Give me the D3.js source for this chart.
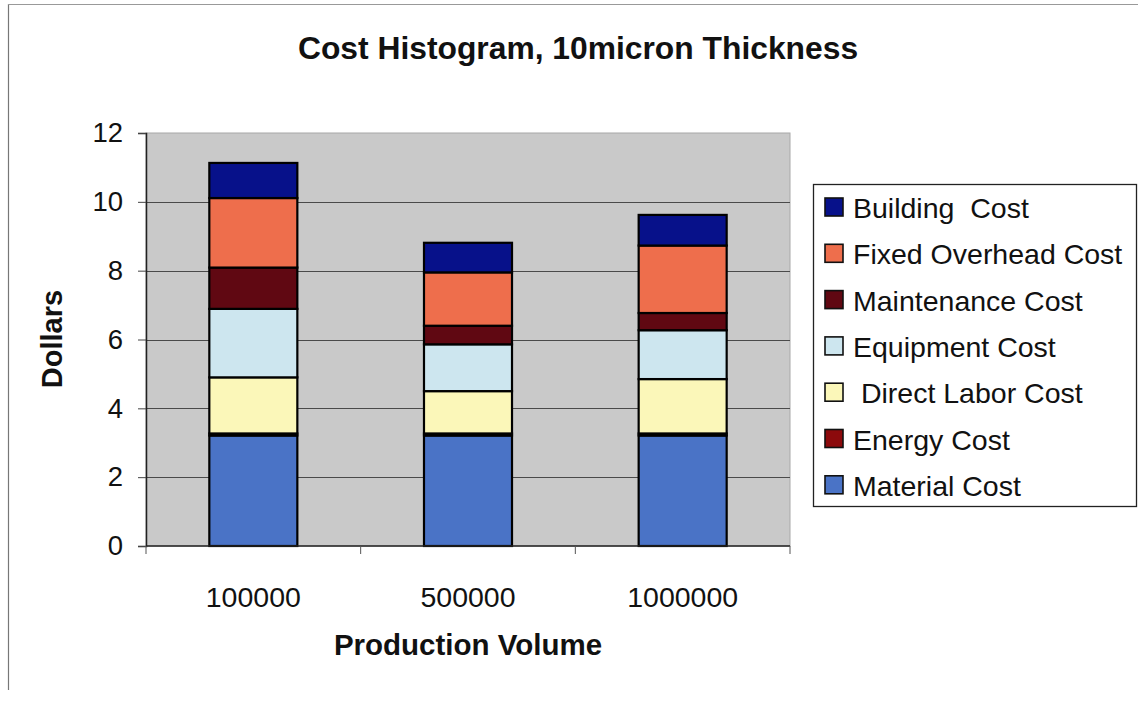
<!DOCTYPE html>
<html>
<head>
<meta charset="utf-8">
<script src="https://cdn.jsdelivr.net/npm/d3@7"></script>
<style>
  html, body { margin: 0; padding: 0; background: #fff; }
  svg { display: block; font-family: "Liberation Sans", Arial, sans-serif; }
</style>
</head>
<body>
<svg id="chart" width="1138" height="705"></svg>
<script>
// Production volumes (x categories)
const categories = ["100000", "500000", "1000000"];

// Cost components per unit, in dollars (stacked bottom to top)
const materialCost      = [3.21, 3.21, 3.21];
const energyCost        = [0.06, 0.06, 0.06];
const directLaborCost   = [1.63, 1.23, 1.58];
const equipmentCost     = [1.99, 1.36, 1.42];
const maintenanceCost   = [1.20, 0.54, 0.50];
const fixedOverheadCost = [2.02, 1.55, 1.96];
const buildingCost      = [1.02, 0.86, 0.89];

const seriesNames = ["Material Cost", "Energy Cost", " Direct Labor Cost", "Equipment Cost",
                     "Maintenance Cost", "Fixed Overhead Cost", "Building  Cost"];
const seriesValues = [materialCost, energyCost, directLaborCost, equipmentCost,
                      maintenanceCost, fixedOverheadCost, buildingCost];
const seriesColors = ["#4a73c6", "#8c0a0c", "#fbf7b9", "#cde6ef",
                      "#600812", "#ee6e4c", "#07118a"];

const yTicks = [0, 2, 4, 6, 8, 10, 12];

const svg = d3.select("#chart");

// outer chart frame (left and top edges)
svg.append("line").attr("x1", 8.5).attr("x2", 8.5).attr("y1", 4).attr("y2", 690)
  .attr("stroke", "#777").attr("stroke-width", 1.2);
svg.append("line").attr("x1", 8).attr("x2", 1138).attr("y1", 4.5).attr("y2", 4.5)
  .attr("stroke", "#999").attr("stroke-width", 1.2);

const plot = { left: 146, right: 790, top: 133, bottom: 546 };

const x = d3.scaleBand().domain(categories).range([plot.left, plot.right]).paddingInner(0.59).paddingOuter(0.295);
const xGroup = d3.scaleBand().domain(categories).range([plot.left, plot.right]).padding(0);
const y = d3.scaleLinear().domain([0, 12]).range([plot.bottom, plot.top]);

// plot background
svg.append("rect")
  .attr("x", plot.left).attr("y", plot.top)
  .attr("width", plot.right - plot.left).attr("height", plot.bottom - plot.top)
  .attr("fill", "#c9c9c9").attr("stroke", "#a8a8a8").attr("stroke-width", 1);

// horizontal gridlines
svg.append("g").selectAll("line")
  .data(yTicks.filter(t => t > 0 && t < 12))
  .join("line")
  .attr("x1", plot.left).attr("x2", plot.right)
  .attr("y1", d => Math.round(y(d)) + 0.5).attr("y2", d => Math.round(y(d)) + 0.5)
  .attr("stroke", "#4a4a4a").attr("stroke-width", 1.2);

// stacked bars
const table = categories.map((c, i) => {
  const row = { category: c };
  seriesNames.forEach((n, k) => { row[n] = seriesValues[k][i]; });
  return row;
});
const stacked = d3.stack().keys(seriesNames)(table);

svg.append("g").selectAll("g")
  .data(stacked)
  .join("g")
  .attr("fill", (d, i) => seriesColors[i])
  .selectAll("rect")
  .data(d => d)
  .join("rect")
  .attr("x", d => x(d.data.category))
  .attr("width", x.bandwidth())
  .attr("y", d => y(d[1]))
  .attr("height", d => y(d[0]) - y(d[1]))
  .attr("stroke", "#000").attr("stroke-width", 2.2);

// y axis
const yAxis = svg.append("g")
  .attr("transform", `translate(${plot.left},0)`)
  .call(d3.axisLeft(y).tickValues(yTicks).tickSize(8).tickPadding(15).tickFormat(d3.format("d")));
yAxis.select(".domain").attr("stroke", "#222").attr("stroke-width", 1.5);
yAxis.selectAll(".tick line").attr("stroke", "#444");
yAxis.selectAll("text").attr("font-size", 27.5).attr("fill", "#111")
  .attr("font-family", "Liberation Sans, Arial, sans-serif");

// x axis: tick marks at category boundaries
const xAxisG = svg.append("g").attr("transform", `translate(0,${plot.bottom})`);
xAxisG.append("line").attr("x1", plot.left).attr("x2", plot.right).attr("y1", 0).attr("y2", 0)
  .attr("stroke", "#222").attr("stroke-width", 1.5);
const boundaries = categories.map(c => xGroup(c)).concat([xGroup(categories[categories.length - 1]) + xGroup.bandwidth()]);
xAxisG.selectAll("line.tk").data(boundaries).join("line").attr("class", "tk")
  .attr("x1", d => d).attr("x2", d => d).attr("y1", 0).attr("y2", 8)
  .attr("stroke", "#555").attr("stroke-width", 1);
xAxisG.selectAll("text").data(categories).join("text")
  .attr("x", d => xGroup(d) + xGroup.bandwidth() / 2)
  .attr("y", 61)
  .attr("text-anchor", "middle")
  .attr("font-size", 28.5).attr("fill", "#111")
  .text(d => d);

// titles
svg.append("text").attr("x", 578).attr("y", 59).attr("text-anchor", "middle")
  .attr("font-size", 31.8).attr("font-weight", "bold").attr("fill", "#111")
  .text("Cost Histogram, 10micron Thickness");
svg.append("text").attr("x", 468).attr("y", 655).attr("text-anchor", "middle")
  .attr("font-size", 29.5).attr("font-weight", "bold").attr("fill", "#111")
  .text("Production Volume");
svg.append("text").attr("transform", "translate(62,339) rotate(-90)").attr("text-anchor", "middle")
  .attr("font-size", 29).attr("font-weight", "bold").attr("fill", "#111")
  .text("Dollars");

// legend
const legend = svg.append("g");
legend.append("rect").attr("x", 813.5).attr("y", 184.5).attr("width", 323).attr("height", 322)
  .attr("fill", "#fff").attr("stroke", "#222").attr("stroke-width", 1.3);
const legendOrder = d3.range(seriesNames.length).reverse();
const rows = legend.selectAll("g.row").data(legendOrder).join("g").attr("class", "row")
  .attr("transform", (d, i) => `translate(0,${198 + i * 46.3})`);
rows.append("rect").attr("x", 825).attr("y", 0).attr("width", 18).attr("height", 18)
  .attr("fill", d => seriesColors[d]).attr("stroke", "#111").attr("stroke-width", 1.6);
rows.append("text").attr("x", 853).attr("y", 20)
  .attr("font-size", 28.5).attr("fill", "#111")
  .style("white-space", "pre")
  .text(d => seriesNames[d]);
</script>
</body>
</html>
